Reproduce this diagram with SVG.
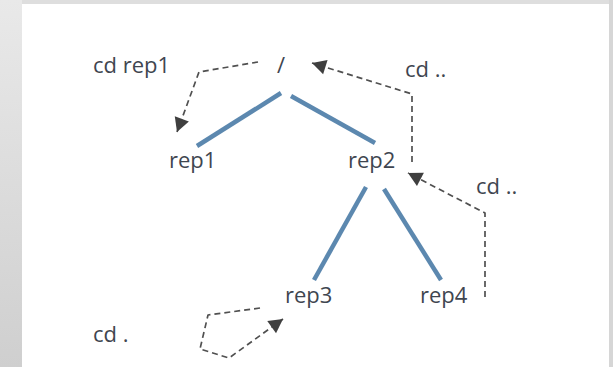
<svg xmlns="http://www.w3.org/2000/svg" width="613" height="367" viewBox="0 0 613 367">
  <defs>
    <linearGradient id="bg" x1="0" y1="0" x2="0" y2="1">
      <stop offset="0" stop-color="#e9e9e9"/>
      <stop offset="1" stop-color="#cfcfcf"/>
    </linearGradient>
    <marker id="ah" viewBox="-15 -9 17 18" markerWidth="17" markerHeight="18" refX="0" refY="0" orient="auto" markerUnits="userSpaceOnUse">
      <path d="M0,0 L-14,-7.5 L-14,7.5 Z" fill="#3f3f3f"/>
    </marker>
    <style>
      .lbl { font-family: "Open Sans", "Liberation Sans", sans-serif; font-size: 22px; fill: #3f4650; }
      .edge { stroke: #5c88af; stroke-width: 4.5; fill: none; stroke-linecap: butt; }
      .nav { stroke: #505050; stroke-width: 1.7; fill: none; stroke-dasharray: 6 4; stroke-linejoin: round; }
    </style>
  </defs>
  <rect x="0" y="0" width="613" height="367" fill="url(#bg)"/>
  <rect x="22" y="0" width="591" height="4" fill="#dedede"/>
  <rect x="609" y="0" width="4" height="367" fill="#d6d6d6"/>
  <rect x="22" y="4" width="587" height="363" fill="#ffffff"/>

  <g id="connectors">
    <line class="edge" x1="281" y1="93" x2="197" y2="146"/>
    <line class="edge" x1="291" y1="96" x2="375" y2="143"/>
    <line class="edge" x1="366" y1="187" x2="314" y2="280"/>
    <line class="edge" x1="384" y1="189" x2="441" y2="280"/>
    <path class="nav" d="M258,62 L199,72 L177,132" marker-end="url(#ah)"/>
    <path class="nav" d="M412,162 L412,94 L312,63" marker-end="url(#ah)"/>
    <path class="nav" d="M485,297 L485,213 L408,173" marker-end="url(#ah)"/>
    <path class="nav" d="M260,308 L208,315 L200,349 L229,358 L283,319" marker-end="url(#ah)"/>
  </g>

  <g id="root"><text class="lbl" x="277" y="73">/</text></g>
  <g id="rep1"><text class="lbl" x="169" y="168">rep1</text></g>
  <g id="rep2"><text class="lbl" x="348" y="168">rep2</text></g>
  <g id="rep3"><text class="lbl" x="285" y="303">rep3</text></g>
  <g id="rep4"><text class="lbl" x="420" y="303">rep4</text></g>
  <g id="label-cd-rep1"><text class="lbl" x="93" y="73">cd rep1</text></g>
  <g id="label-cd-up1"><text class="lbl" x="405" y="77">cd ..</text></g>
  <g id="label-cd-up2"><text class="lbl" x="476" y="194">cd ..</text></g>
  <g id="label-cd-here"><text class="lbl" x="93" y="342">cd .</text></g>
</svg>
